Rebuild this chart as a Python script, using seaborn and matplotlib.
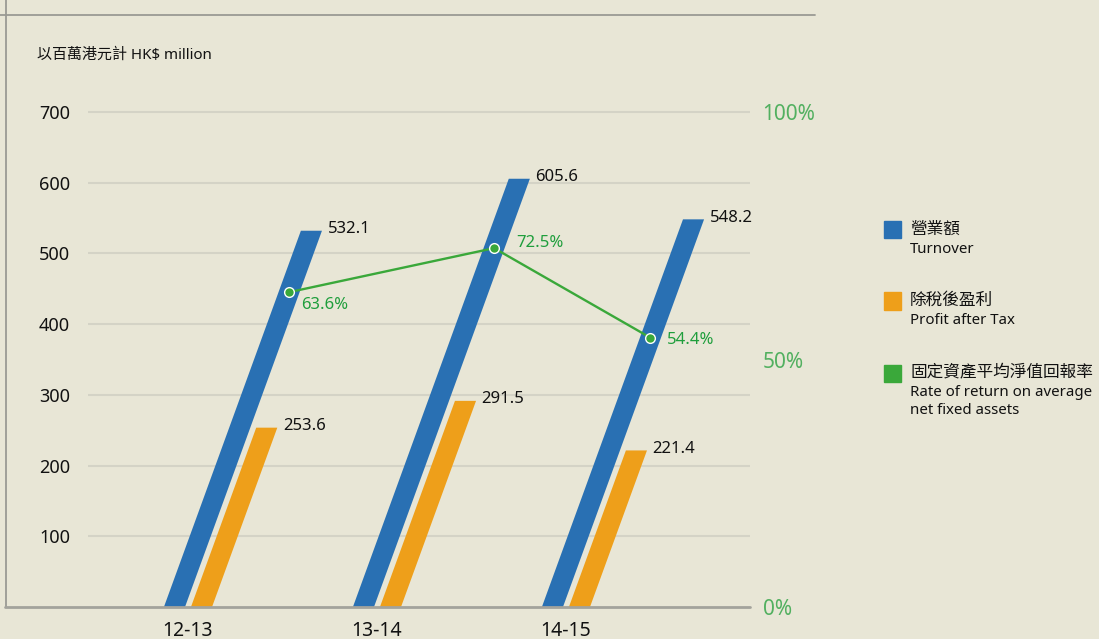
import numpy as np
import pandas as pd
import matplotlib
matplotlib.use("Agg")
import matplotlib.pyplot as plt
import matplotlib.transforms as mtransforms
from matplotlib.lines import Line2D
from matplotlib.patches import Rectangle
import seaborn as sns

# data
years = ['12-13', '13-14', '14-15']
turnover = [532.1, 605.6, 548.2]
profit = [253.6, 291.5, 221.4]
rate = [63.6, 72.5, 54.4]
series_names = ['Turnover', 'Profit after Tax']

BG = '#e8e6d6'
BLUE = '#2970b3'
ORANGE = '#ee9f1a'
GREEN = '#3aa83a'
GREEN_TXT = '#1f9e3c'

sns.set_style("white")
plt.rcParams['font.family'] = ['Noto Sans', 'Noto Sans CJK TC', 'DejaVu Sans']

df = pd.DataFrame({
    'year': years * 2,
    'value': turnover + profit,
    'series': [series_names[0]] * 3 + [series_names[1]] * 3,
})

W, H = 1099, 639
fig = plt.figure(figsize=(W / 100, H / 100), dpi=100, facecolor=BG)


def fx(x):
    return x / W


def fy(y):
    return 1 - y / H


# axes: left 88px, right 750px, bottom at y=607, 700 at y=112
ymax = 710
ppu = (607 - 112) / 700
top_px = 607 - ymax * ppu
ax = fig.add_axes([fx(88), fy(607), fx(750) - fx(88), fy(top_px) - fy(607)])
ax.set_facecolor(BG)

sns.barplot(data=df, x='year', y='value', hue='series', palette=[BLUE, ORANGE],
            width=0.286, gap=0.22, legend=False, ax=ax, saturation=1)

ax.set_xlim(-0.529, 2.974)
ax.set_ylim(0, ymax)
for s in ax.spines.values():
    s.set_visible(False)
ax.set_yticks([100, 200, 300, 400, 500, 600, 700])
ax.yaxis.grid(True, color='#d4d3c6', lw=1.5)
ax.set_axisbelow(True)
ax.tick_params(axis='y', length=0, pad=13, labelsize=13, labelcolor='#111111')
ax.tick_params(axis='x', length=0, pad=10, labelsize=14, labelcolor='#111111')
ax.set_xlabel('')
ax.set_ylabel('')

# skew so bars lean right: horizontal px per vertical px
lean = 0.364
px_per_cat = (750 - 88) / (2.974 + 0.529)
skew = lean * ppu / px_per_cat
skew_t = mtransforms.Affine2D(np.array([[1, skew, 0], [0, 1, 0], [0, 0, 1]]))

for cont in ax.containers:
    for bar in cont:
        bar.set_transform(skew_t + ax.transData)
        bar.set_edgecolor('none')
        ax.annotate(f'{bar.get_height():.1f}', xy=(bar.get_x() + bar.get_width(), bar.get_height()),
                    xycoords=skew_t + ax.transData, xytext=(4, 1), textcoords='offset points',
                    ha='left', va='center', fontsize=12, color='#111111')

# right axis: rate of return
ax2 = ax.twinx()
ax2.set_ylim(0, ymax / 7)
for s in ax2.spines.values():
    s.set_visible(False)
ax2.set_yticks([0, 50, 100])
ax2.set_yticklabels(['0%', '50%', '100%'])
ax2.tick_params(axis='y', length=0, pad=9, labelsize=15, labelcolor='#52b060')

blue_bars = ax.containers[0]
line_x = [b.get_x() + b.get_width() / 2 for b in blue_bars]
skew2 = mtransforms.Affine2D(np.array([[1, skew * 7, 0], [0, 1, 0], [0, 0, 1]]))
sns.lineplot(x=line_x, y=rate, ax=ax2, color=GREEN, lw=1.7, marker='o', markersize=7,
             markeredgecolor='white', markeredgewidth=1.0)
ax2.lines[-1].set_transform(skew2 + ax2.transData)
ax2.set_xlim(-0.529, 2.974)

label_offsets = [(9, -9), (16, 4), (12, -2)]
for xv, r, off in zip(line_x, rate, label_offsets):
    ax2.annotate(f'{r:.1f}%', xy=(xv, r), xycoords=skew2 + ax2.transData, xytext=off,
                 textcoords='offset points', ha='left', va='center', fontsize=12, color=GREEN_TXT)

# frame decorations
fig.add_artist(Line2D([fx(0), fx(815)], [fy(15), fy(15)], color='#9a9a94', lw=1.3))
fig.add_artist(Line2D([fx(6), fx(6)], [fy(0), fy(607)], color='#9a9a94', lw=1.3))
fig.add_artist(Line2D([fx(5), fx(750)], [fy(607), fy(607)], color='#a3a39c', lw=2))

fig.text(fx(37), fy(55), '以百萬港元計 HK$ million', fontsize=10.8, color='#111111', va='center')

# legend
legend_items = [
    (BLUE, '營業額', ['Turnover'], 230),
    (ORANGE, '除稅後盈利', ['Profit after Tax'], 301),
    (GREEN, '固定資產平均淨值回報率', ['Rate of return on average', 'net fixed assets'], 373),
]
for col, zh, en, yc in legend_items:
    fig.add_artist(Rectangle((fx(884), fy(yc + 8.5)), 17 / W, 17 / H, color=col, transform=fig.transFigure))
    fig.text(fx(910), fy(yc), zh, fontsize=12, va='center', color='#111111')
    for k, line in enumerate(en):
        fig.text(fx(910), fy(yc + 19 + k * 19), line, fontsize=10.8, va='center', color='#111111')

fig.savefig('out.png', dpi=100, facecolor=BG)
